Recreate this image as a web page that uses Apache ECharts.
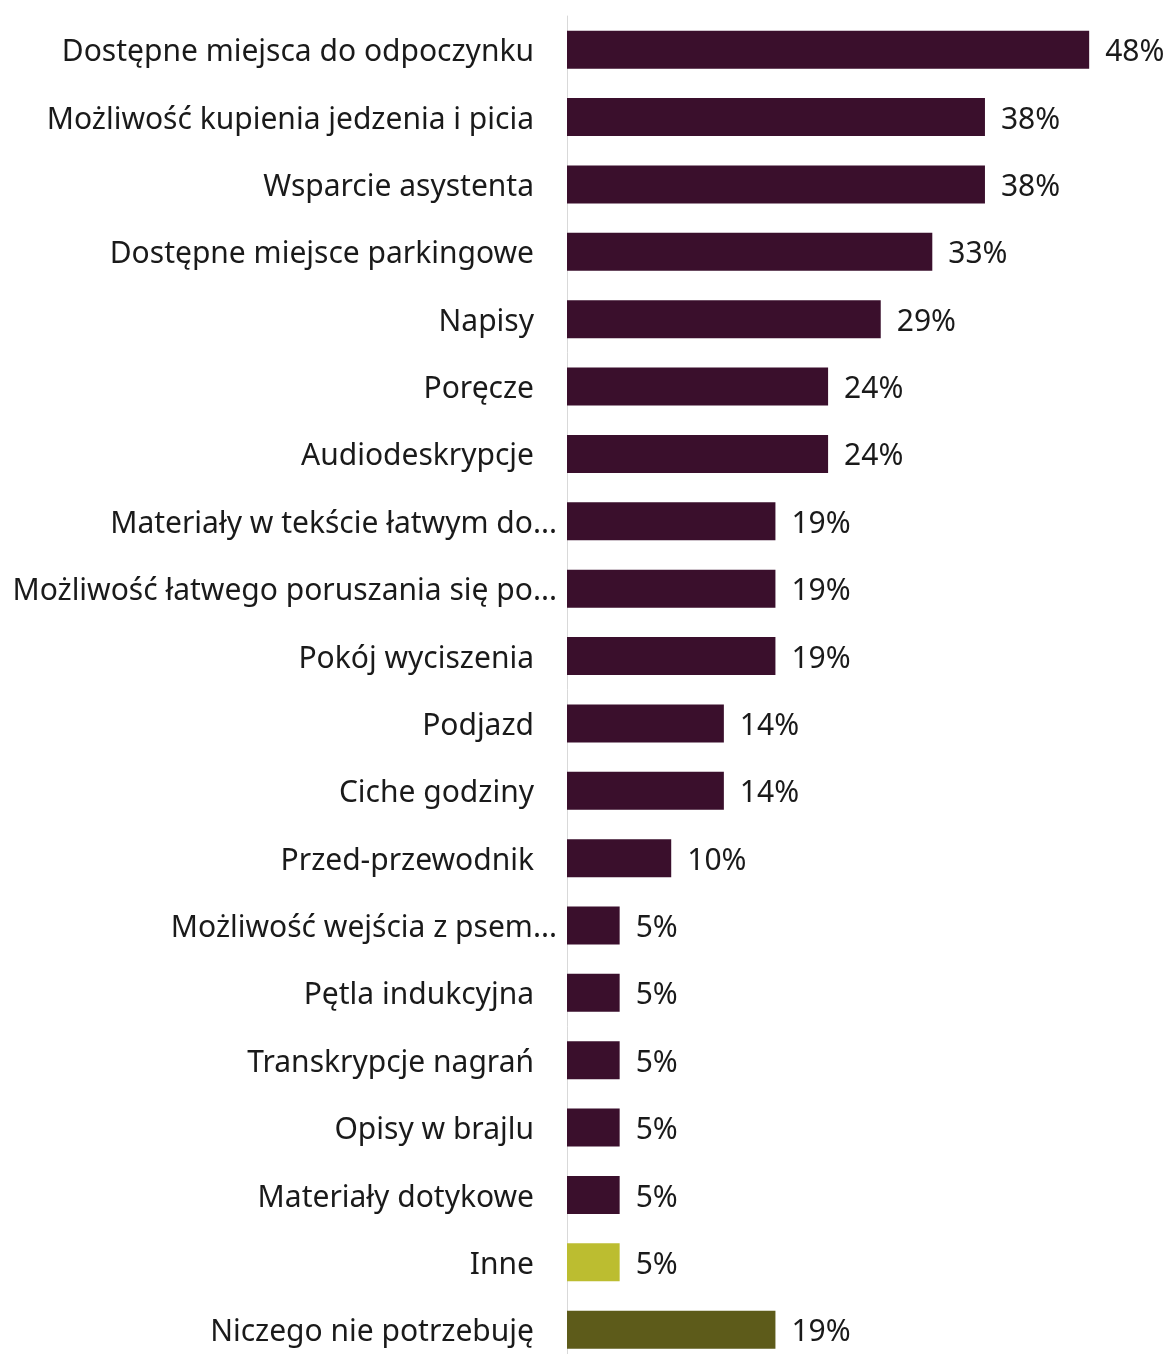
<!DOCTYPE html>
<html>
<head>
<meta charset="utf-8">
<script src="https://cdn.jsdelivr.net/npm/echarts@6/dist/echarts.min.js"></script>
<style>
html,body{margin:0;padding:0;background:#fff;overflow:hidden;}
#chart{width:1167px;height:1364px;}
</style>
</head>
<body>
<div id="chart"></div>
<script>
const categories = [
  "Dostępne miejsca do odpoczynku",
  "Możliwość kupienia jedzenia i picia",
  "Wsparcie asystenta",
  "Dostępne miejsce parkingowe",
  "Napisy",
  "Poręcze",
  "Audiodeskrypcje",
  "Materiały w tekście łatwym do...",
  "Możliwość łatwego poruszania się po...",
  "Pokój wyciszenia",
  "Podjazd",
  "Ciche godziny",
  "Przed-przewodnik",
  "Możliwość wejścia z psem...",
  "Pętla indukcyjna",
  "Transkrypcje nagrań",
  "Opisy w brajlu",
  "Materiały dotykowe",
  "Inne",
  "Niczego nie potrzebuję"
];
const values = [47.6, 38.1, 38.1, 33.3, 28.6, 23.8, 23.8, 19.0, 19.0, 19.0, 14.3, 14.3, 9.5, 4.8, 4.8, 4.8, 4.8, 4.8, 4.8, 19.0];
const truncated = [false,false,false,false,false,false,false,true,true,false,false,false,false,true,false,false,false,false,false,false];
const barColors = {
  "Inne": "#bcbd30",
  "Niczego nie potrzebuję": "#5d5b1a"
};
const defaultColor = "#3a0f2c";

const chart = echarts.init(document.getElementById('chart'));
const FONT = '"Noto Sans", "Open Sans", sans-serif';
chart.setOption({
  animation: false,
  grid: { left: 567, top: 16, right: 51.5, bottom: 0.6, containLabel: false },
  xAxis: {
    type: 'value', min: 0, max: 50,
    show: false
  },
  yAxis: {
    type: 'category',
    data: categories,
    inverse: true,
    axisLine: { show: true, lineStyle: { color: '#d9d9d9', width: 1 } },
    axisTick: { show: false },
    axisLabel: {
      margin: 10,
      fontFamily: FONT,
      fontSize: 30,
      color: '#1a1a1a',
      formatter: function (v, i) {
        return truncated[i] ? '{t|' + v + '}' : '{n|' + v + '}';
      },
      rich: {
        n: { fontFamily: FONT, fontSize: 30, color: '#1a1a1a', padding: [6, 23, 0, 0] },
        t: { fontFamily: FONT, fontSize: 30, color: '#1a1a1a', padding: [6, 0, 0, 0] }
      }
    }
  },
  series: [{
    type: 'bar',
    barWidth: 38,
    data: values.map((v, i) => ({
      value: v,
      itemStyle: { color: barColors[categories[i]] || defaultColor }
    })),
    label: {
      show: true,
      position: 'right',
      distance: 16,
      offset: [0, 3],
      fontFamily: FONT,
      fontSize: 30,
      color: '#1a1a1a',
      formatter: p => Math.round(p.value) + '%'
    }
  }]
});
</script>
</body>
</html>
